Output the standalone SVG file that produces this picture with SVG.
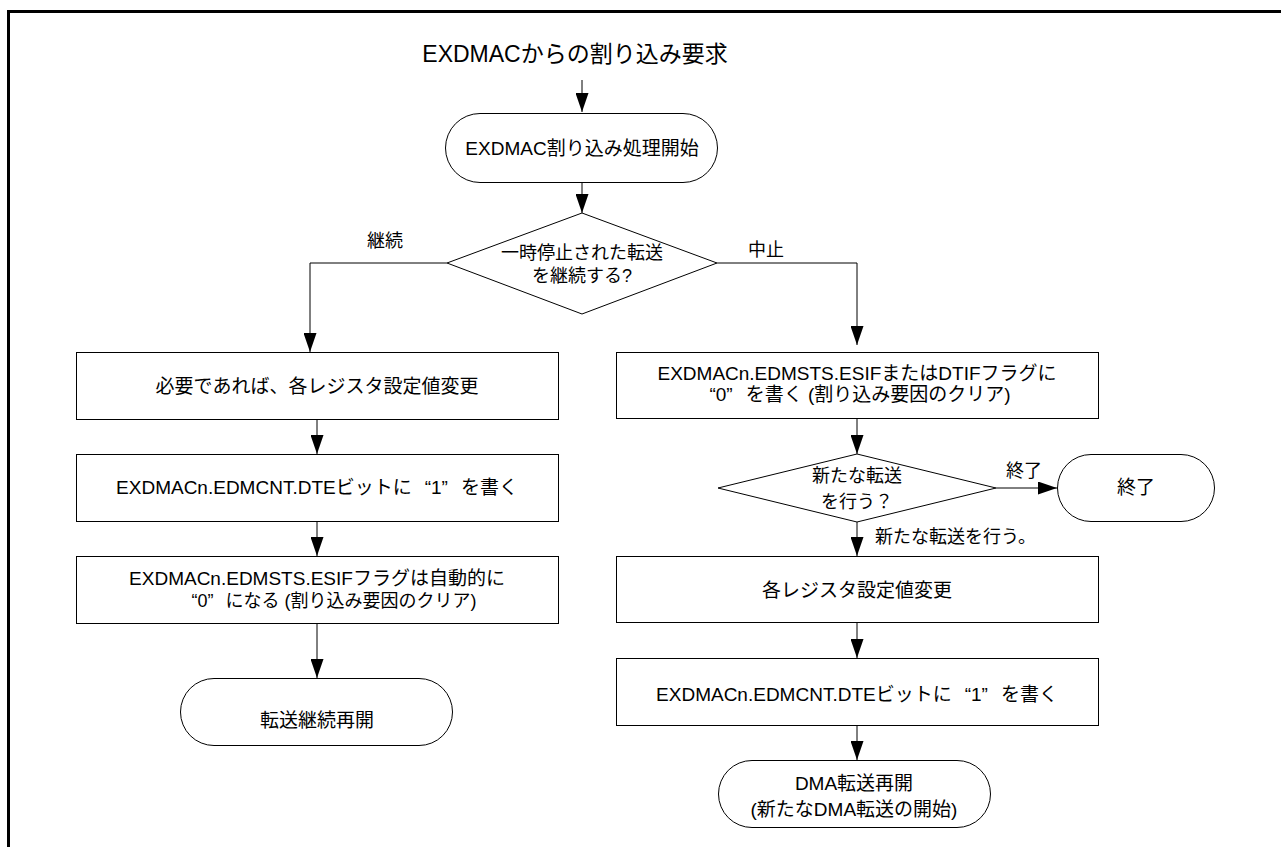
<svg xmlns="http://www.w3.org/2000/svg" width="1281" height="847" viewBox="0 0 1281 847" xml:lang="ja">
<defs>
<marker id="ah" viewBox="0 0 19 13" refX="19" refY="6.5" markerWidth="19" markerHeight="13" orient="auto" markerUnits="userSpaceOnUse">
<path d="M0,0 L19,6.5 L0,13 z" fill="#000"/>
</marker>
<style>
text{font-family:"Liberation Sans","Noto Sans CJK JP",sans-serif;fill:#000;font-size:19px;text-anchor:middle}
.t{font-size:23px}
.d{font-size:18px}
.l{font-size:18px}
.s{font-size:18px}
.n{fill:#fff;stroke:#000;stroke-width:1}
.c{fill:none;stroke:#000;stroke-width:1;marker-end:url(#ah)}
.f{fill:none;stroke:#000;stroke-width:3}
</style>
</defs>
<rect width="1281" height="847" fill="#fff"/>
<path class="f" d="M8.5,847 V11.5 H1281"/>
<text class="t" x="575" y="62">EXDMACからの割り込み要求</text>
<g id="connectors">
<path class="c" d="M582,80 V112"/>
<path class="c" d="M582,182 V213"/>
<path class="c" d="M447,263 H310 V352"/>
<path class="c" d="M717,263 H857 V345"/>
<path class="c" d="M317,420 V454"/>
<path class="c" d="M317,522 V556"/>
<path class="c" d="M317,624 V678"/>
<path class="c" d="M857,419 V454"/>
<path class="c" d="M996,488 H1057"/>
<path class="c" d="M857,522 V556"/>
<path class="c" d="M857,623 V658"/>
<path class="c" d="M857,726 V760"/>
<text class="l" x="385" y="247">継続</text>
<text class="l" x="766" y="256">中止</text>
<text class="l" x="1024" y="477">終了</text>
<text class="l" x="875" y="543" style="text-anchor:start">新たな転送を行う。</text>
</g>
<g id="start">
<rect class="n" x="445.5" y="113.5" width="272" height="69" rx="34.5"/>
<text x="582" y="155">EXDMAC割り込み処理開始</text>
</g>
<g id="decision1">
<polygon class="n" points="582,213 717,263 582,314 447,263"/>
<text class="d" x="582" y="259">一時停止された転送</text>
<text class="d" x="582" y="282">を継続する?</text>
</g>
<g id="left1">
<rect class="n" x="76.5" y="352.5" width="482" height="67"/>
<text x="317" y="393">必要であれば、各レジスタ設定値変更</text>
</g>
<g id="left2">
<rect class="n" x="76.5" y="454.5" width="482" height="67"/>
<text x="317" y="494">EXDMACn.EDMCNT.DTEビットに<tspan dx="13">“1”</tspan><tspan dx="13">を書く</tspan></text>
</g>
<g id="left3">
<rect class="n" x="76.5" y="556.5" width="482" height="67"/>
<text x="317" y="585">EXDMACn.EDMSTS.ESIFフラグは自動的に</text>
<text class="s" x="334" y="607">“0”<tspan dx="12">になる (割り込み要因のクリア)</tspan></text>
</g>
<g id="resume">
<rect class="n" x="180.5" y="678.5" width="272" height="67" rx="33.5"/>
<text x="317" y="727">転送継続再開</text>
</g>
<g id="right1">
<rect class="n" x="616.5" y="352.5" width="482" height="66"/>
<text x="857" y="380">EXDMACn.EDMSTS.ESIFまたはDTIFフラグに</text>
<text x="860" y="401">“0”<tspan dx="13">を書く (割り込み要因のクリア)</tspan></text>
</g>
<g id="decision2">
<polygon class="n" points="857,454 996,488 857,522 718,488"/>
<text class="d" x="857" y="482">新たな転送</text>
<text class="d" x="857" y="508">を行う？</text>
</g>
<g id="end">
<rect class="n" x="1057.5" y="454.5" width="157" height="67" rx="33.5"/>
<text x="1136" y="494">終了</text>
</g>
<g id="right2">
<rect class="n" x="616.5" y="556.5" width="482" height="66"/>
<text x="857" y="597">各レジスタ設定値変更</text>
</g>
<g id="right3">
<rect class="n" x="616.5" y="658.5" width="482" height="67"/>
<text x="857" y="701">EXDMACn.EDMCNT.DTEビットに<tspan dx="13">“1”</tspan><tspan dx="13">を書く</tspan></text>
</g>
<g id="dmaresume">
<rect class="n" x="718.5" y="760.5" width="272" height="67" rx="33.5"/>
<text x="854" y="790">DMA転送再開</text>
<text x="854" y="816">(新たなDMA転送の開始)</text>
</g>
</svg>
